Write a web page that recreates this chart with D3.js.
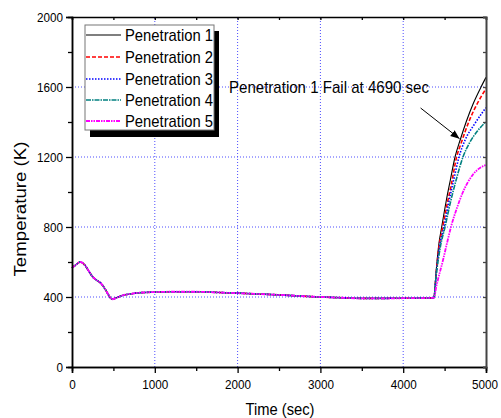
<!DOCTYPE html>
<html><head><meta charset="utf-8">
<script src="https://cdn.jsdelivr.net/npm/d3@7"></script>
<style>body{margin:0;background:#fff}svg{display:block}text{font-family:"Liberation Sans",Arial,sans-serif;fill:#000}</style>
</head><body><svg id="c" width="501" height="418"></svg>
<script>
// ---- data ----
const seriesNames = ["Penetration 1","Penetration 2","Penetration 3","Penetration 4","Penetration 5"];
const commonTime = [0,50,100,150,200,250,300,350,400,450,483,550,616,700,785,1000,1200,1500,1700,2000,2500,3000,3300,3500,4000,4370];
const commonTemp = [566,585,600,585,550,515,495,478,445,405,387,398,410,417,423,428,430,430,427,422,412,400,395,392,393,395];
const riseTime1 = [4400,4430,4465,4520,4570,4626,4690,4760,4850,4940,5000];
const riseTemp1 = [560,700,800,950,1070,1200,1300,1400,1510,1600,1655];
const riseTime2 = [4400,4430,4477,4530,4580,4645,4700,4800,4900,5000];
const riseTemp2 = [545,680,800,930,1040,1200,1280,1410,1510,1590];
const riseTime3 = [4400,4440,4493,4550,4610,4674,4750,4850,4950,5000];
const riseTemp3 = [540,690,800,940,1070,1200,1300,1380,1450,1482];
const riseTime4 = [4400,4450,4505,4570,4640,4722,4800,4900,5000];
const riseTemp4 = [530,690,800,940,1070,1200,1280,1350,1402];
const riseTime5 = [4400,4420,4481,4530,4577,4650,4722,4843,4920,5000];
const riseTemp5 = [460,500,611,710,800,910,1000,1100,1135,1154];
const xMajorTicks = [0,1000,2000,3000,4000,5000];
const xMinorTicks = [500,1500,2500,3500,4500];
const yMajorTicks = [0,400,800,1200,1600,2000];
const yMinorTicks = [200,600,1000,1400,1800];
const xGrid = [1000,2000,3000,4000];
const yGrid = [400,800,1200,1600];
const annotation = "Penetration 1 Fail at 4690 sec";
const xLabel = "Time (sec)";
const yLabel = "Temperature (K)";

const riseTimes = [riseTime1,riseTime2,riseTime3,riseTime4,riseTime5];
const riseTemps = [riseTemp1,riseTemp2,riseTemp3,riseTemp4,riseTemp5];
const styles = [
  {color:"#000000", dash:null, w:1.1},
  {color:"#ff0000", dash:"4,2", w:1.6},
  {color:"#0000ff", dash:"1.5,1.5", w:1.6},
  {color:"#008080", dash:"5,1,1.5,1", w:1.6},
  {color:"#ff00ff", dash:"4,1,1.5,1,1.5,1", w:1.8}
];

const svg = d3.select("#c");
const x = d3.scaleLinear().domain([0,5000]).range([72,486]);
const y = d3.scaleLinear().domain([0,2000]).range([367,17]);

// grid
const grid = svg.append("g").attr("stroke","#4d4dff").attr("stroke-width",1).attr("stroke-dasharray","1,2");
grid.selectAll(".gx").data(xGrid).join("line").attr("x1",d=>x(d)).attr("x2",d=>x(d)).attr("y1",y(0)).attr("y2",y(2000));
grid.selectAll(".gy").data(yGrid).join("line").attr("y1",d=>y(d)).attr("y2",d=>y(d)).attr("x1",x(0)).attr("x2",x(5000));

// series
const line = d3.line().x(d=>x(d[0])).y(d=>y(d[1])).curve(d3.curveMonotoneX);
const seriesData = seriesNames.map((n,i)=>{
  const pts = commonTime.map((t,j)=>[t,commonTemp[j]]);
  riseTimes[i].forEach((t,j)=>pts.push([t,riseTemps[i][j]]));
  return pts;
});
for (let i=0;i<seriesNames.length;i++){
  svg.append("path").datum(seriesData[i]).attr("d",line).attr("fill","none")
    .attr("stroke",styles[i].color).attr("stroke-width",styles[i].w)
    .attr("stroke-dasharray",styles[i].dash);
}

// axes
const fixLen = sel => sel.selectAll("text").each(function(){
  const t=d3.select(this); const s=t.text(); if(s) t.attr("textLength",s.length*6.5).attr("lengthAdjust","spacingAndGlyphs");
});
const axB = svg.append("g").attr("transform",`translate(0,${y(0)})`)
  .call(d3.axisBottom(x).tickValues(xMajorTicks).tickSize(6).tickPadding(6).tickFormat(d3.format("d")));
const axBm = svg.append("g").attr("transform",`translate(0,${y(0)})`)
  .call(d3.axisBottom(x).tickValues(xMinorTicks).tickSize(4).tickFormat(""));
const axL = svg.append("g").attr("transform",`translate(${x(0)},0)`)
  .call(d3.axisLeft(y).tickValues(yMajorTicks).tickSize(6).tickPadding(3).tickFormat(d3.format("d")));
const axLm = svg.append("g").attr("transform",`translate(${x(0)},0)`)
  .call(d3.axisLeft(y).tickValues(yMinorTicks).tickSize(4).tickFormat(""));
const axT = svg.append("g").attr("transform",`translate(0,${y(2000)})`)
  .call(d3.axisTop(x).tickValues(xMajorTicks.concat(xMinorTicks)).tickSize(-3).tickFormat(""));
const axR = svg.append("g").attr("transform",`translate(${x(5000)},0)`)
  .call(d3.axisRight(y).tickValues(yMajorTicks.concat(yMinorTicks)).tickSize(-3).tickFormat(""));
[axB,axBm,axL,axLm,axT,axR].forEach(a=>{
  a.selectAll("line").attr("stroke","#000").attr("stroke-width",1.3);
  a.select(".domain").attr("stroke","#000").attr("stroke-width",1.5);
  a.selectAll("text").attr("font-size",13.5).attr("font-family","Liberation Sans, Arial, sans-serif").attr("fill","#000");
});
axR.select(".domain").attr("stroke","#444").attr("stroke-width",2);
axR.selectAll("line").attr("stroke","#444");
fixLen(axB); fixLen(axL);
axB.selectAll(".tick text").filter(d=>d===5000).attr("dx",-1.5);

// labels
svg.append("text").attr("x",280).attr("y",415).attr("text-anchor","middle").attr("font-size",17)
  .attr("textLength",69).attr("lengthAdjust","spacingAndGlyphs").text(xLabel);
svg.append("text").attr("transform","translate(26,209) rotate(-90)").attr("text-anchor","middle").attr("font-size",17)
  .attr("textLength",135).attr("lengthAdjust","spacingAndGlyphs").text(yLabel);

// annotation
svg.append("defs").append("marker").attr("id","ah").attr("viewBox","0 0 10 10").attr("refX",10).attr("refY",5)
  .attr("markerWidth",9).attr("markerHeight",9).attr("markerUnits","userSpaceOnUse").attr("orient","auto")
  .append("path").attr("d","M0,1 L10,5 L0,9 Z").attr("fill","#000");
svg.append("text").attr("x",229).attr("y",93).attr("font-size",17)
  .attr("textLength",200).attr("lengthAdjust","spacingAndGlyphs").text(annotation);
svg.append("line").attr("x1",x(4210)).attr("y1",y(1480)).attr("x2",x(4680)).attr("y2",y(1305))
  .attr("stroke","#000").attr("stroke-width",1).attr("marker-end","url(#ah)");

// legend
const lg = svg.append("g");
lg.append("rect").attr("x",90).attr("y",31).attr("width",129).attr("height",106).attr("fill","#000");
lg.append("rect").attr("x",85).attr("y",25).attr("width",129).attr("height",105).attr("fill","#fff").attr("stroke","#777").attr("stroke-width",1);
const rowY = [35,57,79,100,121];
seriesNames.forEach((n,i)=>{
  lg.append("line").attr("x1",86).attr("x2",121).attr("y1",rowY[i]).attr("y2",rowY[i])
    .attr("stroke",styles[i].color).attr("stroke-width",styles[i].w).attr("stroke-dasharray",styles[i].dash);
  lg.append("text").attr("x",125).attr("y",rowY[i]+6).attr("font-size",17)
    .attr("textLength",88).attr("lengthAdjust","spacingAndGlyphs").text(n);
});
</script></body></html>
